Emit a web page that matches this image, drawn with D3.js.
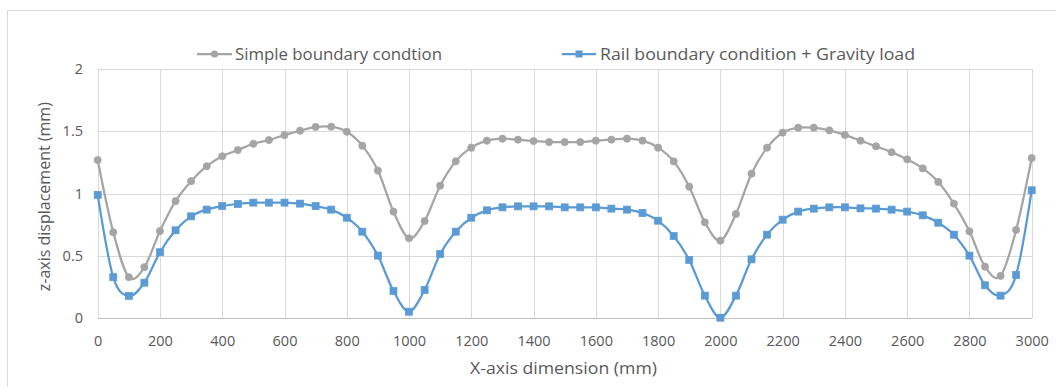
<!DOCTYPE html>
<html>
<head>
<meta charset="utf-8">
<script src="https://cdn.jsdelivr.net/npm/d3@7"></script>
<style>
  html, body { margin: 0; padding: 0; background: #fff; }
  svg { display: block; }
  text { font-family: "Open Sans", "Noto Sans", sans-serif; fill: #595959; }
</style>
</head>
<body>
<svg id="chart" width="1056" height="387"></svg>
<script>
// ---- data ----
const xPositions = [0,50,100,150,200,250,300,350,400,450,500,550,600,650,700,750,800,850,900,950,
  1000,1050,1100,1150,1200,1250,1300,1350,1400,1450,1500,1550,1600,1650,1700,1750,1800,1850,1900,1950,
  2000,2050,2100,2150,2200,2250,2300,2350,2400,2450,2500,2550,2600,2650,2700,2750,2800,2850,2900,2950,3000];
const simpleBoundary = [1.27,0.69,0.33,0.41,0.70,0.94,1.10,1.22,1.30,1.35,1.40,1.43,1.47,1.505,1.535,1.537,
  1.497,1.385,1.185,0.856,0.642,0.78,1.064,1.259,1.369,1.425,1.441,1.433,1.422,1.414,1.414,1.414,1.425,1.433,1.441,1.425,
  1.369,1.259,1.056,0.77,0.623,0.837,1.16,1.369,1.489,1.529,1.529,1.508,1.471,1.425,1.38,1.332,1.275,1.203,1.094,0.92,
  0.698,0.414,0.34,0.709,1.286];
const railGravity = [0.99,0.33,0.18,0.286,0.53,0.706,0.818,0.872,0.90,0.917,0.928,0.928,0.928,0.92,0.90,0.872,
  0.807,0.695,0.503,0.219,0.053,0.227,0.516,0.695,0.807,0.866,0.89,0.898,0.898,0.898,0.89,0.89,0.89,0.88,0.872,0.845,
  0.783,0.66,0.468,0.182,0.005,0.182,0.473,0.671,0.791,0.856,0.88,0.89,0.89,0.882,0.88,0.872,0.856,0.826,0.767,0.671,
  0.503,0.265,0.182,0.348,1.027];
const xTicks = [0,200,400,600,800,1000,1200,1400,1600,1800,2000,2200,2400,2600,2800,3000];
const yTicks = [0,0.5,1,1.5,2];
const seriesNames = ["Simple boundary condtion", "Rail boundary condition + Gravity load"];
const xTitle = "X-axis dimension (mm)";
const yTitle = "z-axis displacement (mm)";

// ---- layout ----
const svg = d3.select("#chart");
const mLeft = 97.7, mRight = 1031.7, mTop = 69, mBottom = 318.3;
const grayColor = "#A5A5A5", blueColor = "#5B9BD5";

const x = d3.scaleLinear().domain([0, 3000]).range([mLeft, mRight]);
const y = d3.scaleLinear().domain([0, 2]).range([mBottom, mTop]);

// chart frame
svg.append("rect").attr("x", 7.5).attr("y", 10.5).attr("width", 1200).attr("height", 500)
  .attr("fill", "#fff").attr("stroke", "#D9D9D9").attr("stroke-width", 1);

// gridlines
const grid = svg.append("g");
grid.selectAll("line.h").data(yTicks.filter(d => d > 0)).join("line")
  .attr("x1", mLeft).attr("x2", mRight)
  .attr("y1", d => Math.round(y(d)) + 0.5).attr("y2", d => Math.round(y(d)) + 0.5)
  .attr("stroke", "#D9D9D9").attr("stroke-width", 1);
grid.selectAll("line.v").data(xTicks).join("line")
  .attr("y1", mTop).attr("y2", mBottom)
  .attr("x1", d => Math.round(x(d)) + 0.5).attr("x2", d => Math.round(x(d)) + 0.5)
  .attr("stroke", "#D9D9D9").attr("stroke-width", 1);

// x axis line
svg.append("line").attr("x1", mLeft).attr("x2", mRight)
  .attr("y1", Math.round(mBottom) + 0.5).attr("y2", Math.round(mBottom) + 0.5)
  .attr("stroke", "#BFBFBF").attr("stroke-width", 1);

// axes (labels only) via d3 axis generators
const xAxis = d3.axisBottom(x).tickValues(xTicks).tickSize(0).tickPadding(0).tickFormat(d3.format("d"));
const gx = svg.append("g").attr("transform", `translate(0,${mBottom + 23})`).call(xAxis);
gx.select(".domain").remove();
gx.selectAll("text").attr("font-size", 14.5).attr("fill", "#595959")
  .attr("font-family", "'Open Sans', sans-serif").attr("dy", "0.32em").attr("y", 0);

const yAxis = d3.axisLeft(y).tickValues(yTicks).tickSize(0).tickPadding(0).tickFormat(d => d3.format("")(d));
const gy = svg.append("g").attr("transform", `translate(${83},0)`).call(yAxis);
gy.select(".domain").remove();
gy.selectAll("text").attr("font-size", 14.5).attr("fill", "#595959")
  .attr("font-family", "'Open Sans', sans-serif").attr("dy", "0.32em").attr("x", 0);

// axis titles
svg.append("text").attr("x", 470).attr("y", 367)
  .attr("dominant-baseline", "central").attr("font-size", 16.5)
  .attr("textLength", 187).attr("lengthAdjust", "spacingAndGlyphs").text(xTitle);
svg.append("text").attr("transform", `translate(44,${(mTop + mBottom) / 2 + 3}) rotate(-90)`)
  .attr("text-anchor", "middle").attr("dominant-baseline", "central").attr("font-size", 16).text(yTitle);

// series
const curve = d3.curveCatmullRom.alpha(0);
const line = d3.line().x(d => x(d[0])).y(d => y(d[1])).curve(curve);
const grayData = xPositions.map((xv, i) => [xv, simpleBoundary[i]]);
const blueData = xPositions.map((xv, i) => [xv, railGravity[i]]);

svg.append("path").datum(grayData).attr("d", line).attr("fill", "none")
  .attr("stroke", grayColor).attr("stroke-width", 2.25).attr("stroke-linejoin", "round");
svg.append("g").selectAll("circle").data(grayData).join("circle")
  .attr("cx", d => x(d[0])).attr("cy", d => y(d[1])).attr("r", 3.6)
  .attr("fill", grayColor).attr("stroke", grayColor).attr("stroke-width", 0.75);

svg.append("path").datum(blueData).attr("d", line).attr("fill", "none")
  .attr("stroke", blueColor).attr("stroke-width", 2.25).attr("stroke-linejoin", "round");
const sq = 7;
svg.append("g").selectAll("rect").data(blueData).join("rect")
  .attr("x", d => x(d[0]) - sq / 2).attr("y", d => y(d[1]) - sq / 2)
  .attr("width", sq).attr("height", sq)
  .attr("fill", blueColor).attr("stroke", blueColor).attr("stroke-width", 0.75);

// legend
const legendY = 54;
const legendItems = [
  { name: seriesNames[0], color: grayColor, shape: "circle", x0: 197, x1: 232, tx: 235, tw: 207 },
  { name: seriesNames[1], color: blueColor, shape: "square", x0: 562, x1: 596, tx: 600, tw: 315 }
];
const lg = svg.append("g");
legendItems.forEach(it => {
  lg.append("line").attr("x1", it.x0).attr("x2", it.x1).attr("y1", legendY).attr("y2", legendY)
    .attr("stroke", it.color).attr("stroke-width", 2.25);
  const cx = (it.x0 + it.x1) / 2;
  if (it.shape === "circle") {
    lg.append("circle").attr("cx", cx).attr("cy", legendY).attr("r", 3.6).attr("fill", it.color);
  } else {
    lg.append("rect").attr("x", cx - sq / 2).attr("y", legendY - sq / 2).attr("width", sq).attr("height", sq).attr("fill", it.color);
  }
  lg.append("text").attr("x", it.tx).attr("y", legendY).attr("dominant-baseline", "central")
    .attr("font-size", 16).attr("textLength", it.tw).attr("lengthAdjust", "spacingAndGlyphs").text(it.name);
});
</script>
</body>
</html>
